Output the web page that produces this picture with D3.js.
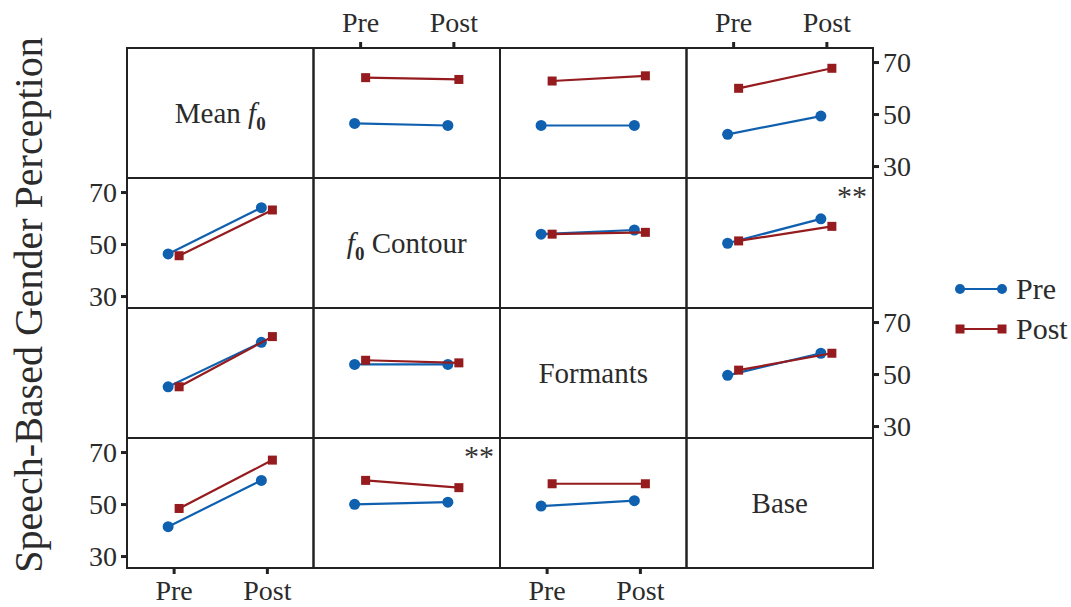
<!DOCTYPE html>
<html lang="en">
<head>
  <meta charset="UTF-8" />
  <title>Speech-Based Gender Perception</title>
  <script src="https://d3js.org/d3.v7.min.js"></script>
  <style>
    body { margin: 0; background: #fff; }
    svg { display: block; font-family: "Liberation Serif", "DejaVu Serif", serif; }
    .frame { fill: none; stroke: #222; stroke-width: 2; }
    .tick-lbl { font-size: 28px; fill: #2b2b2b; }
    .diag { font-size: 29px; fill: #2b2b2b; }
    .sig { font-size: 30px; fill: #333; }
  </style>
</head>
<body>
  <svg id="chart" width="1071" height="607"></svg>

  <script>
    // Variablen (Diagonale)
    const vars = ["Mean f0", "f0 Contour", "Formants", "Base"];
    const times = ["Pre", "Post"];
    const series = ["Pre", "Post"];
    const yTicks = [30, 50, 70];

    // Zellen ausserhalb der Diagonale: [Zeile, Spalte]
    const cells = [[0,1],[0,2],[0,3],[1,0],[1,2],[1,3],[2,0],[2,1],[2,3],[3,0],[3,1],[3,2]];
    const preValues = [[46.4,45.6],[45.6,45.6],[42.2,49.2],[46.2,64.0],[53.8,55.4],[50.3,59.7],
                       [45.1,62.2],[53.7,53.7],[49.5,58.0],[41.3,59.1],[49.9,50.7],[49.2,51.3]];
    const postValues = [[64.0,63.3],[62.7,64.7],[59.9,67.6],[45.5,63.1],[53.8,54.5],[51.2,56.8],
                        [45.1,64.4],[55.3,54.3],[51.5,58.0],[48.3,66.9],[59.1,56.3],[57.8,57.8]];
    const sigCells = [[1,3],[3,1]];

    const colors = { Pre: "#1060b0", Post: "#951b1e" };
    const dodge = { Pre: -5.5, Post: 5.5 };

    const svg = d3.select("#chart");
    const gridLeft = 127, gridTop = 48, cellW = 186.5, cellH = 130;

    const x = d3.scalePoint().domain(times).range([0, cellW]).padding(0.5);
    const y = d3.scaleLinear().domain([25.4, 75.4]).range([cellH, 0]);

    function cellG(r, c) {
      return svg.append("g").attr("transform", `translate(${gridLeft + c * cellW},${gridTop + r * cellH})`);
    }

    function styleAxis(g) {
      g.select(".domain").remove();
      g.selectAll(".tick line").attr("stroke", "#222").attr("stroke-width", 3);
      g.selectAll(".tick text").attr("class", "tick-lbl").attr("fill", null);
      g.attr("font-family", null).attr("font-size", null);
    }

    // Diagonale mit Beschriftung
    vars.forEach((v, i) => {
      const g = cellG(i, i);
      const t = g.append("text").attr("class", "diag")
        .attr("x", cellW / 2).attr("y", cellH / 2 + 10).attr("text-anchor", "middle");
      if (v === "Mean f0") {
        t.append("tspan").text("Mean ");
        t.append("tspan").attr("font-style", "italic").text("f");
        t.append("tspan").attr("font-size", 19).attr("font-weight", "bold").attr("dy", 7).text("0");
      } else if (v === "f0 Contour") {
        t.append("tspan").attr("font-style", "italic").text("f");
        t.append("tspan").attr("font-size", 19).attr("font-weight", "bold").attr("dy", 7).text("0");
        t.append("tspan").attr("dy", -7).text(" Contour");
      } else {
        t.text(v);
      }
    });

    const line = d3.line().x(d => x(d.t) + d.dx).y(d => y(d.v));

    cells.forEach(([r, c], i) => {
      const g = cellG(r, c);
      series.forEach(s => {
        const vals = s === "Pre" ? preValues[i] : postValues[i];
        const pts = times.map((t, k) => ({ t, v: vals[k], dx: dodge[s] }));
        g.append("path").datum(pts).attr("d", line)
          .attr("fill", "none").attr("stroke", colors[s]).attr("stroke-width", 2.2);
        if (s === "Pre") {
          g.selectAll(null).data(pts).join("circle")
            .attr("cx", d => x(d.t) + d.dx).attr("cy", d => y(d.v)).attr("r", 5.5)
            .attr("fill", colors[s]);
        } else {
          g.selectAll(null).data(pts).join("rect")
            .attr("x", d => x(d.t) + d.dx - 4.5).attr("y", d => y(d.v) - 4.5)
            .attr("width", 9).attr("height", 9).attr("fill", colors[s]);
        }
      });
    });

    // Signifikanz
    sigCells.forEach(([r, c]) => {
      cellG(r, c).append("text").attr("class", "sig")
        .attr("x", cellW - 6).attr("y", 28).attr("text-anchor", "end").text("**");
    });

    // Rahmen
    for (let r = 0; r < 4; r++) {
      for (let c = 0; c < 4; c++) {
        cellG(r, c).append("rect").attr("class", "frame").attr("width", cellW).attr("height", cellH);
      }
    }

    // Achsen
    const xAxisTop = d3.axisTop(x).tickSize(5).tickPadding(10);
    const xAxisBottom = d3.axisBottom(x).tickSize(5).tickPadding(6);
    const yAxisLeft = d3.axisLeft(y).tickValues(yTicks).tickSize(5).tickPadding(4);
    const yAxisRight = d3.axisRight(y).tickValues(yTicks).tickSize(5).tickPadding(4);

    [1, 3].forEach(c => {
      svg.append("g").attr("transform", `translate(${gridLeft + c * cellW},${gridTop - 1})`).call(xAxisTop).call(styleAxis);
    });
    [0, 2].forEach(c => {
      svg.append("g").attr("transform", `translate(${gridLeft + c * cellW},${gridTop + 4 * cellH + 1})`).call(xAxisBottom).call(styleAxis);
    });
    [1, 3].forEach(r => {
      svg.append("g").attr("transform", `translate(${gridLeft - 1},${gridTop + r * cellH})`).call(yAxisLeft).call(styleAxis);
    });
    [0, 2].forEach(r => {
      svg.append("g").attr("transform", `translate(${gridLeft + 4 * cellW + 1},${gridTop + r * cellH})`).call(yAxisRight).call(styleAxis);
    });

    // Y-Titel
    svg.append("text")
      .attr("transform", `translate(42,${gridTop + 2 * cellH - 3}) rotate(-90)`)
      .attr("text-anchor", "middle").attr("font-size", 40).attr("fill", "#2b2b2b")
      .text("Speech-Based Gender Perception");

    // Legende
    const legend = svg.append("g").attr("transform", "translate(960,289)");
    series.forEach((s, i) => {
      const lg = legend.append("g").attr("transform", `translate(0,${i * 40})`);
      lg.append("line").attr("x1", 0).attr("x2", 42).attr("stroke", colors[s]).attr("stroke-width", 2.2);
      if (s === "Pre") {
        lg.selectAll(null).data([0, 42]).join("circle").attr("cx", d => d).attr("r", 5).attr("fill", colors[s]);
      } else {
        lg.selectAll(null).data([0, 42]).join("rect").attr("x", d => d - 4.5).attr("y", -4.5)
          .attr("width", 9).attr("height", 9).attr("fill", colors[s]);
      }
      lg.append("text").attr("x", 56).attr("y", 10).attr("font-size", 30).attr("fill", "#2b2b2b").text(s);
    });
  </script>
</body>
</html>
